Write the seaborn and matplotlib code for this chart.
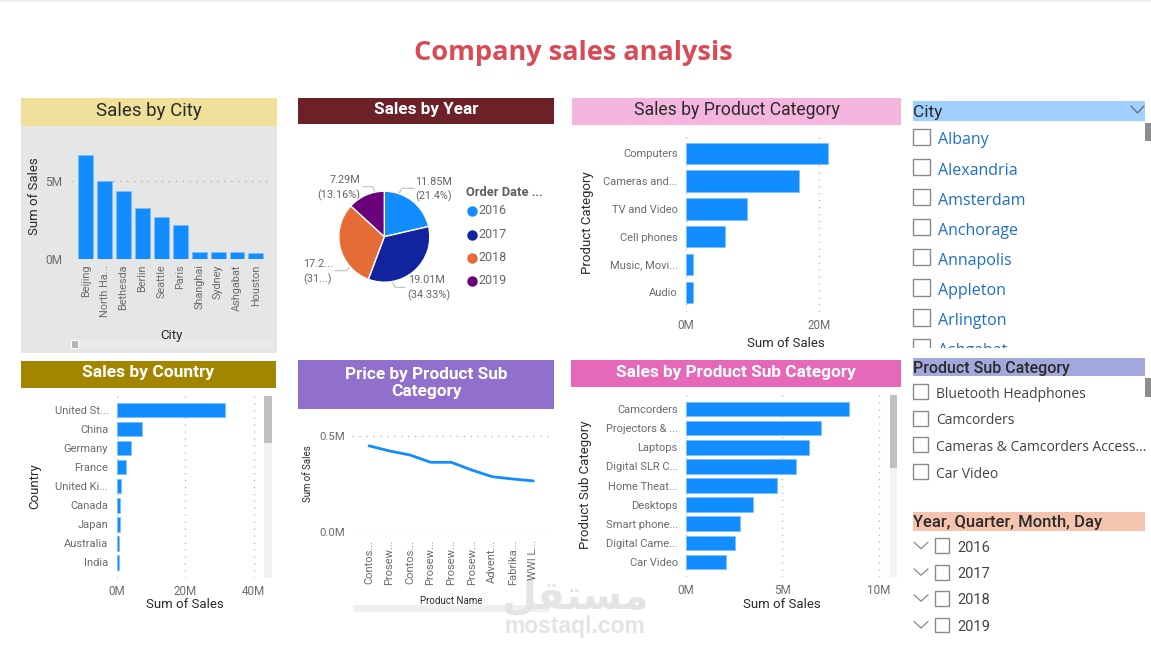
import matplotlib
matplotlib.use('Agg')
import pandas as pd
import seaborn as sns
import matplotlib.pyplot as plt
from matplotlib.patches import Rectangle

W, H = 1151, 650
BLUE = '#118DFF'
GREY = '#6b6b6b'
DARK = '#2b2a29'
DOTS = (0, (1, 4))

city_names = ['Beijing', 'North Ha...', 'Bethesda', 'Berlin', 'Seattle', 'Paris',
              'Shanghai', 'Sydney', 'Ashgabat', 'Houston']
city_sales = [6.65, 5.0, 4.36, 3.3, 2.7, 2.18, 0.47, 0.43, 0.43, 0.4]

year_names = ['2016', '2017', '2018', '2019']
year_sales = [11.85, 19.01, 17.23, 7.29]
year_colors = ['#118DFF', '#12239E', '#E66C37', '#6B007B']

category_names = ['Computers', 'Cameras and...', 'TV and Video', 'Cell phones',
                  'Music, Movi...', 'Audio']
category_sales = [21.25, 17.0, 9.1, 5.8, 1.05, 1.05]

country_names = ['United St...', 'China', 'Germany', 'France', 'United Ki...',
                 'Canada', 'Japan', 'Australia', 'India']
country_sales = [31.5, 7.5, 4.3, 2.6, 1.25, 1.1, 0.9, 0.6, 0.55]

product_names = ['Contos...', 'Prosew...', 'Contos...', 'Prosew...', 'Prosew...',
                 'Prosew...', 'Advent...', 'Fabrika...', 'WWI L...']
product_sales = [0.449, 0.422, 0.401, 0.363, 0.363, 0.323, 0.288, 0.276, 0.266]

subcat_names = ['Camcorders', 'Projectors & ...', 'Laptops', 'Digital SLR C...',
                'Home Theat...', 'Desktops', 'Smart phone...', 'Digital Came...', 'Car Video']
subcat_sales = [8.45, 7.03, 6.39, 5.71, 4.73, 3.48, 2.81, 2.53, 2.08]

city_slicer = ['Albany', 'Alexandria', 'Amsterdam', 'Anchorage', 'Annapolis',
               'Appleton', 'Arlington', 'Ashgabat']
subcat_slicer = ['Bluetooth Headphones', 'Camcorders', 'Cameras & Camcorders Access...', 'Car Video']

sns.set_theme(style='white')
plt.rcParams['font.family'] = ['Roboto', 'DejaVu Sans']

fig = plt.figure(figsize=(W / 100, H / 100), dpi=100, facecolor='white')

# whole figure in pixel coordinates, for the report chrome
bg = fig.add_axes([0, 0, 1, 1], zorder=0)
bg.set_xlim(0, W)
bg.set_ylim(H, 0)
bg.axis('off')


def px_axes(left, top, right, bottom):
    return fig.add_axes([left / W, 1 - bottom / H, (right - left) / W, (bottom - top) / H],
                        facecolor='none', zorder=2)


def box(x0, y0, x1, y1, color):
    bg.add_patch(Rectangle((x0, y0), x1 - x0, y1 - y0, facecolor=color, edgecolor='none'))


def title_bar(x0, y0, x1, y1, color, text, tcolor, weight='normal', size=12.5):
    box(x0, y0, x1, y1, color)
    bg.text((x0 + x1) / 2, (y0 + y1) / 2 - 1.5, text, color=tcolor, fontsize=size, fontweight=weight,
            ha='center', va='center', linespacing=1.2)


def clean(ax):
    sns.despine(ax=ax, left=True, bottom=True)
    ax.set_axisbelow(True)
    ax.tick_params(length=0)


def set_titles(ax, xlabel, xpos, ylabel, ypos, size=9.5):
    ax.set_xlabel(xlabel, fontsize=size, color=DARK, va='center', ha='center')
    ax.set_ylabel(ylabel, fontsize=size, color=DARK, va='center', ha='center')
    ax.xaxis.set_label_coords(xpos[0], xpos[1] + 1, transform=bg.transData)
    ax.yaxis.set_label_coords(ypos[0] + 2.5, ypos[1], transform=bg.transData)


def hbars(names, values, ticks, ticklabels, box_px, zero_px, per_unit, first_px, step_px, xpos, ylabel, ypos):
    ax = px_axes(*box_px)
    df = pd.DataFrame({'name': names, 'sales': values})
    sns.barplot(data=df, x='sales', y='name', color=BLUE, saturation=1, width=0.77,
                edgecolor='#7cc0ff', linewidth=0.5, ax=ax)
    ax.set_xlim((box_px[0] - zero_px) / per_unit, (box_px[2] - zero_px) / per_unit)
    ax.set_ylim((box_px[3] - first_px) / step_px, (box_px[1] - first_px) / step_px)
    ax.set_xticks(ticks, ticklabels)
    ax.grid(axis='x', linestyle=DOTS, color='#bdbdbd', linewidth=1)
    ax.grid(axis='y', visible=False)
    clean(ax)
    ax.tick_params(axis='x', labelsize=8.4, labelcolor=GREY, pad=5)
    ax.tick_params(axis='y', labelsize=8, labelcolor=GREY, pad=6)
    set_titles(ax, 'Sum of Sales', xpos, ylabel, ypos)
    return ax


# page title
box(0, 0, W, 2, '#f1f1f1')
bg.text(573.5, 53, 'Company sales analysis', family='Open Sans', fontsize=19.5, fontweight='bold',
        color='#D94A55', ha='center', va='center')

# Sales by City
box(21, 126, 277, 353, '#E6E6E6')
title_bar(21, 98, 277, 126, '#EFE09A', 'Sales by City', DARK, size=13.5)
box(71, 341, 272, 347, '#EAEAEA')
bg.add_patch(Rectangle((71, 340), 7.5, 8, facecolor='#b4b4b4', edgecolor='white', linewidth=0.8))
ax = px_axes(71, 130, 272, 259)
df_city = pd.DataFrame({'city': city_names, 'sales': city_sales})
sns.barplot(data=df_city, x='city', y='sales', color=BLUE, saturation=1, width=0.79,
            edgecolor='#7cc0ff', linewidth=0.5, ax=ax)
ax.set_xlim((71 - 85.8) / 18.9, (272 - 85.8) / 18.9)
ax.set_ylim(0, 129 / 15.6)
ax.set_yticks([0, 5], ['0M', '5M'])
ax.grid(axis='y', linestyle=DOTS, color='#b4b4b4', linewidth=1)
ax.grid(axis='x', visible=False)
clean(ax)
ax.tick_params(axis='x', labelsize=7.8, labelcolor=GREY, rotation=90, pad=4)
ax.tick_params(axis='y', labelsize=8.6, labelcolor=GREY, pad=6.5)
set_titles(ax, 'City', (171, 334), 'Sum of Sales', (32, 196))

# Sales by Year
title_bar(298.5, 98, 554, 124, '#6B2127', 'Sales by Year', 'white', weight='bold', size=12.3)
ax = px_axes(338.8, 191.2, 429.8, 282.2)
ax.pie(year_sales, colors=year_colors, startangle=90, counterclock=False, radius=1)
ax.set_xlim(-1, 1)
ax.set_ylim(-1, 1)

pie_labels = [
    ('11.85M', 434, 182), ('(21.4%)', 434, 196.5),
    ('7.29M', 344.5, 180), ('(13.16%)', 339, 195),
    ('17.2...', 318, 264), ('(31...)', 318, 279),
    ('19.01M', 427, 280), ('(34.33%)', 429, 295.5),
]
for text, x, y in pie_labels:
    bg.text(x, y, text, fontsize=7.8, color='#666666', ha='center', va='center')
leaders = [
    ([399, 402.3, 414], [193, 188.3, 188.3]),
    ([375, 372.7, 363.3], [191.7, 186.7, 186.7]),
    ([350, 346.7, 335], [266.7, 270.7, 270.7]),
    ([392.3, 395, 405], [281.7, 287.3, 287.3]),
]
for xs, ys in leaders:
    bg.plot(xs, ys, color='#bdbdbd', linewidth=0.8)
bg.text(466, 192, 'Order Date ...', fontsize=9.3, fontweight='bold', color='#605E5C', va='center')
for name, color, y in zip(year_names, year_colors, [211, 235, 257.5, 280.5]):
    bg.plot([472], [y], 'o', color=color, markersize=6.5)
    bg.text(478.5, y, name, fontsize=9, color='#666666', va='center')

# Sales by Product Category
title_bar(572.5, 98, 901, 124.5, '#F4B6DE', 'Sales by Product Category', DARK, size=12.7)
hbars(category_names, category_sales, [0, 20], ['0M', '20M'], (686, 131.7, 890, 311.7),
      686, 6.665, 153.3, 27.8, (785.7, 342.7), 'Product Category', (585, 222.7))

# Sales by Country
title_bar(21, 361, 276, 388, '#A38600', 'Sales by Country', 'white', weight='bold', size=12.5)
box(264.3, 396, 272, 578, '#F2F2F2')
box(264.3, 396, 272, 443, '#C0C0C0')
hbars(country_names, country_sales, [0, 20, 40], ['0M', '20M', '40M'], (116.7, 395, 262, 578),
      116.7, 3.425, 410, 19.04, (185, 604), 'Country', (32, 486))

# Price by Product Sub Category
title_bar(298.5, 360, 554, 408.5, '#9070CC', 'Price by Product Sub\nCategory', 'white', weight='bold', size=12.4)
box(353, 605, 549, 612, '#F0F0F0')
ax = px_axes(352, 425, 549, 532)
df_product = pd.DataFrame({'pos': range(len(product_names)), 'sales': product_sales})
sns.lineplot(data=df_product, x='pos', y='sales', color=BLUE, linewidth=2, sort=False, ax=ax)
ax.set_xlim((352 - 369) / 20.54, (549 - 369) / 20.54)
ax.set_ylim(0, 107 / 192)
ax.set_xticks(df_product['pos'], product_names)
ax.set_yticks([0, 0.5], ['0.0M', '0.5M'])
ax.grid(axis='y', linestyle=DOTS, color='#bdbdbd', linewidth=1)
ax.grid(axis='x', visible=False)
clean(ax)
ax.tick_params(axis='x', labelsize=8, labelcolor=GREY, rotation=90, pad=5.5)
ax.tick_params(axis='y', labelsize=8.2, labelcolor=GREY, pad=5)
set_titles(ax, 'Product Name', (451, 600), 'Sum of Sales', (305.5, 474), size=7)

# Sales by Product Sub Category
title_bar(571, 360, 901, 387, '#E668B8', 'Sales by Product Sub Category', 'white', weight='bold', size=12.4)
box(889.7, 395, 897, 577, '#F2F2F2')
box(889.7, 395, 897, 468, '#C0C0C0')
hbars(subcat_names, subcat_sales, [0, 5, 10], ['0M', '5M', '10M'], (686, 395, 885, 576.7),
      686, 19.25, 409, 19.125, (782, 604), 'Product Sub Category', (583, 485))


def checkbox(x, y, size):
    return bg.add_patch(Rectangle((x, y - size / 2), size, size, facecolor='white',
                                  edgecolor='#8a8a8a', linewidth=1))


def chevron(x0, x1, y0, y1, color='#8a8a8a'):
    bg.plot([x0, (x0 + x1) / 2, x1], [y0, y1, y0], color=color, linewidth=0.9)


# City slicer, the list is cut off at the bottom of its box
box(913, 101, 1145, 121, '#A0D0FF')
bg.text(913, 113, 'City', fontsize=12.5, color=DARK, va='center')
chevron(1131, 1144, 106, 113, '#5f6670')
box(1145, 123, 1151, 141, '#8c8c8c')
list_clip = Rectangle((905, 122), 246, 225.5, transform=bg.transData)
for i, name in enumerate(city_slicer):
    y = 137 + i * 30.05
    check = checkbox(913.5, y, 16.5)
    label = bg.text(938, y + 3.5, name, family='Open Sans', fontsize=11.5, color='#1F6FC9',
                    va='center', clip_on=True)
    check.set_clip_path(list_clip)
    label.set_clip_path(list_clip)

# Product Sub Category slicer
box(913, 357.5, 1145, 376, '#A2A8DC')
bg.text(913, 368, 'Product Sub Category', fontsize=11.5, fontweight='medium', color=DARK, va='center')
box(1145, 378, 1151, 397, '#8c8c8c')
for name, y in zip(subcat_slicer, [391.7, 418.3, 444.7, 471.7]):
    checkbox(913.5, y, 14.5)
    bg.text(936, y + 2.5, name, family='Open Sans', fontsize=10, color='#444444', va='center')

# date slicer
box(913, 511.7, 1145, 530.7, '#F5C4AE')
bg.text(913, 522, 'Year, Quarter, Month, Day', fontsize=12, fontweight='medium', color=DARK, va='center')
for name, y in zip(year_names, [545.7, 572.3, 598.3, 625]):
    chevron(914, 928, y - 3.5, y + 3)
    checkbox(935, y, 14.5)
    bg.text(957, y + 2, name, fontsize=10.5, color='#444444', va='center')

# watermark, presentation forms because matplotlib does not shape Arabic
bg.text(575, 598, '\ufede\ufed8\ufe98\ufeb4\ufee3', family='DejaVu Sans', fontsize=29, fontweight='bold',
        color='#e4e4e4', ha='center', va='center', zorder=6)
bg.text(575, 626, 'mostaql.com', family='Liberation Sans', fontsize=16.5, fontweight='bold',
        color='#e4e4e4', ha='center', va='center', zorder=6)

fig.savefig('out.png', dpi=100)
